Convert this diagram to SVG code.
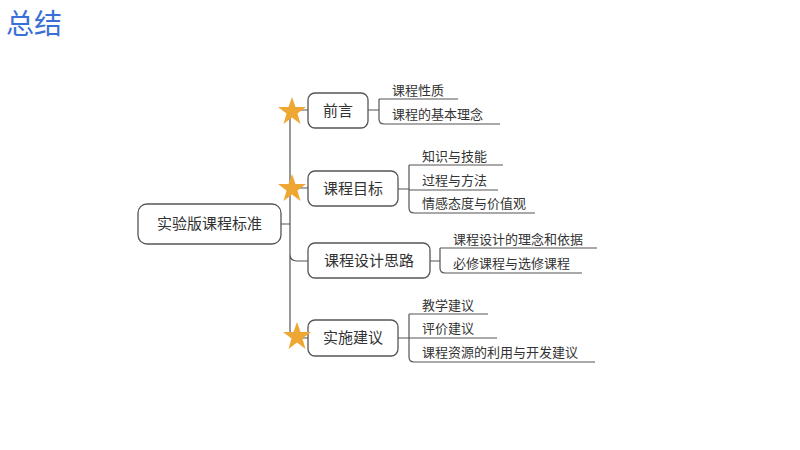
<svg xmlns="http://www.w3.org/2000/svg" width="800" height="450" viewBox="0 0 800 450">
<style>
text{font-family:"Noto Sans CJK SC","Noto Sans",sans-serif;fill:#333}
.box{fill:#fff;stroke:#555;stroke-width:1.3}
.ln{fill:none;stroke:#555;stroke-width:1.2}
.n{font-size:15px}
.l{font-size:13px}
.star{fill:#EFA733}
</style>
<rect width="800" height="450" fill="#fff"/>
<text x="6" y="34" style="font-size:28px;fill:#3A6FD8">总结</text>
<g id="connectors">
<path class="ln" d="M281,224H290 M308,110H290V331Q290,337 296,338H308 M290,188H308 M290,254Q290,261 297,261H308"/>
<path class="ln" d="M368,110H379 M379,99V119Q379,124 384,124H500 M379,99H458"/>
<path class="ln" d="M398,189H409 M409,165V208Q409,213 414,213H535 M409,165H503 M409,190H498"/>
<path class="ln" d="M430,261H440 M440,248V268Q440,273 445,273H582 M440,248H597"/>
<path class="ln" d="M398,338H409 M409,314V357Q409,362 414,362H595 M409,314H488 M409,338H497"/>
</g>
<g id="root"><rect class="box" x="138" y="204" width="143" height="40" rx="9"/><text class="n" x="209.5" y="229" text-anchor="middle">实验版课程标准</text></g>
<g id="n1"><rect class="box" x="308" y="93" width="60" height="35" rx="7"/><text class="n" x="338" y="116" text-anchor="middle">前言</text></g>
<g id="n2"><rect class="box" x="308" y="171" width="90" height="35" rx="7"/><text class="n" x="353" y="194" text-anchor="middle">课程目标</text></g>
<g id="n3"><rect class="box" x="308" y="243" width="122" height="35" rx="7"/><text class="n" x="369" y="266" text-anchor="middle">课程设计思路</text></g>
<g id="n4"><rect class="box" x="308" y="320" width="90" height="36" rx="7"/><text class="n" x="353" y="343" text-anchor="middle">实施建议</text></g>
<g id="stars">
<polygon class="star" points="292,97 295.5,107 306,107 297.5,113.5 300.5,124 292,117.5 283.5,124 286.5,113.5 278,107 288.5,107"/>
<polygon class="star" points="292,174 295.5,184 306,184 297.5,190.5 300.5,201 292,194.5 283.5,201 286.5,190.5 278,184 288.5,184"/>
<polygon class="star" points="297,322 300.5,332 311,332 302.5,338.5 305.5,349 297,342.5 288.5,349 291.5,338.5 283,332 293.5,332"/>
</g>
<g id="leaves" class="l">
<text class="l" x="392" y="95">课程性质</text>
<text class="l" x="392" y="119">课程的基本理念</text>
<text class="l" x="422" y="161">知识与技能</text>
<text class="l" x="422" y="185">过程与方法</text>
<text class="l" x="422" y="208">情感态度与价值观</text>
<text class="l" x="453" y="244">课程设计的理念和依据</text>
<text class="l" x="453" y="268">必修课程与选修课程</text>
<text class="l" x="422" y="310">教学建议</text>
<text class="l" x="422" y="333">评价建议</text>
<text class="l" x="422" y="357">课程资源的利用与开发建议</text>
</g>
</svg>
